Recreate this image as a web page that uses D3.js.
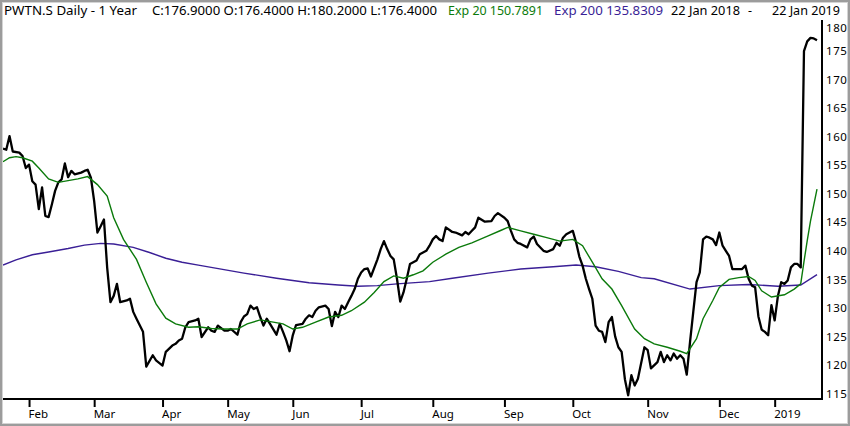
<!DOCTYPE html>
<html>
<head>
<meta charset="utf-8">
<script src="https://cdn.jsdelivr.net/npm/d3@7"></script>
<style>
  html, body { margin: 0; padding: 0; background: #fff; }
  svg { display: block; }
</style>
</head>
<body>
<svg id="chart" width="850" height="426"></svg>
<script>
// trading day index (0 = 22 Jan 2018, 250 = 22 Jan 2019), price
const closeData = [
    [0, 157.9], [1, 157.7], [2, 160.1], [3, 157.4], [5, 157.2], [6, 156.6], [7, 154.5], [8, 155.1],
    [9, 152.2], [10, 151.6], [11, 147.3], [12, 151.1], [13, 146.1], [14, 145.9], [15, 148.1],
    [16, 150.5], [17, 152], [18, 152.5], [19, 155.3], [20, 152.9], [21, 154], [22, 153.4],
    [24, 153.7], [25, 154], [26, 154.2], [27, 152.8], [28, 148.7], [29, 143.2], [30, 144.3],
    [31, 145.5], [32, 137], [33, 131], [34, 132.1], [35, 134.2], [36, 131], [38, 131.3],
    [39, 131.6], [40, 129.3], [41, 128.1], [43, 125.8], [44, 119.7], [46, 121.7], [47, 120.8],
    [49, 119.9], [50, 122.3], [52, 123.4], [53, 123.7], [54, 124.3], [55, 124.6], [56, 126.6],
    [57, 127.5], [59, 127.8], [60, 128.1], [61, 124.9], [63, 126.6], [64, 126], [65, 125.8],
    [66, 126.9], [68, 126], [69, 126], [70, 126.3], [72, 125.3], [73, 127.5], [74, 128.5],
    [75, 128.9], [76, 130.4], [77, 129.8], [78, 130.1], [79, 128.4], [80, 126.9], [81, 128.1],
    [82, 127.2], [84, 125.3], [85, 127.2], [86, 125.8], [87, 124.3], [88, 122.4], [89, 125.2],
    [90, 127], [92, 127.2], [93, 128.1], [94, 128.7], [95, 128.4], [96, 129.5], [97, 130.1],
    [99, 130.4], [100, 129.8], [101, 126.8], [102, 129.3], [103, 128.4], [104, 130.4],
    [105, 129.8], [106, 131], [107, 132.1], [108, 133.3], [109, 135.1], [110, 136.2],
    [111, 136.8], [112, 136.9], [113, 135.5], [115, 138.5], [116, 140.3], [117, 141.7],
    [118, 140.3], [119, 139.1], [120, 138.5], [121, 135.1], [122, 131.1], [123, 132.7],
    [124, 135.1], [125, 137.7], [126, 138], [127, 138.3], [128, 139.4], [129, 139.7],
    [130, 140], [131, 140.9], [132, 142], [133, 142.6], [134, 142], [135, 141.7], [136, 144.1],
    [138, 143.3], [139, 143.2], [141, 142.7], [142, 143.3], [143, 142.9], [144, 143.5],
    [145, 144.1], [146, 145.8], [148, 145.1], [150, 145.2], [151, 146.1], [152, 146.6],
    [154, 145.8], [155, 145.2], [156, 143.5], [157, 142], [158, 141.4], [159, 141.2],
    [161, 140.6], [162, 142], [163, 142.5], [164, 141.2], [166, 140], [167, 139.8],
    [169, 140.3], [170, 141.4], [171, 140.9], [172, 142.3], [173, 142.9], [175, 143.5],
    [176, 141.5], [177, 139], [178, 137.4], [179, 135.1], [180, 133.3], [181, 131.6],
    [182, 126.9], [183, 126], [184, 125.8], [185, 124], [186, 127.5], [187, 128.4],
    [188, 125], [189, 123.1], [190, 122.3], [191, 117.5], [192, 114.7], [193, 118.2],
    [194, 116.4], [195, 117.6], [197, 123.1], [198, 122.6], [199, 119.4], [201, 120.5],
    [202, 122.3], [203, 120.5], [204, 121.7], [205, 120.8], [206, 122], [207, 121.1],
    [208, 121.7], [209, 121.1], [210, 118.3], [211, 124], [212, 129.3], [213, 134.5],
    [214, 136.2], [215, 142], [216, 142.5], [217, 142.3], [218, 142], [219, 141], [220, 143.2],
    [221, 140.9], [222, 140], [223, 139.1], [224, 136.8], [225, 136.8], [227, 136.8],
    [228, 137.4], [229, 135.1], [230, 133.9], [231, 133.6], [232, 128.5], [233, 126.2],
    [234, 125.8], [235, 125.2], [236, 130.5], [237, 127.8], [238, 132.1], [239, 134.5],
    [240, 134.2], [241, 134.8], [242, 137.1], [243, 137.7], [244, 137.7], [245, 137.1],
    [246, 175], [247, 176.7], [248, 177.3], [249, 177.2], [250, 176.9]
];

const ema20Data = [
    [0, 155.6], [2, 156.3], [4, 156.5], [6, 156.3], [9, 155.7], [11, 154.5], [14, 152.6],
    [17, 152], [20, 152.3], [23, 152.6], [26, 153], [29, 151.6], [32, 149.6], [34, 145.8],
    [37, 142], [41, 138.5], [44, 134.5], [47, 130.7], [50, 128.2], [53, 127.2], [57, 126.6],
    [60, 126.7], [64, 126.4], [68, 126.3], [72, 126.3], [75, 127.2], [79, 127.9], [83, 127.5],
    [86, 127.2], [89, 126.3], [92, 126.6], [96, 127.5], [100, 128.4], [104, 128.7],
    [107, 129.5], [111, 131], [114, 132.7], [117, 134.6], [120, 135.6], [123, 135.2],
    [126, 135.8], [129, 136.5], [132, 138], [136, 139.4], [140, 140.6], [144, 141.4],
    [149, 142.6], [153, 143.6], [155, 144.1], [159, 143.5], [163, 142.9], [167, 142.3],
    [171, 141.7], [175, 142], [178, 140.9], [181, 138], [184, 135.1], [187, 133.3],
    [190, 130.4], [194, 126.3], [197, 124.6], [200, 123.7], [204, 123.1], [208, 122.4],
    [210, 122], [213, 124.6], [215, 128.1], [218, 131.3], [220, 133.6], [223, 135],
    [226, 135.3], [229, 135.5], [231, 134.8], [233, 133], [236, 131.9], [240, 132.3],
    [243, 133.3], [245, 134.2], [246, 138.1], [247, 141.8], [248, 145.2], [249, 148.0],
    [250, 150.79]
];

const ema200Data = [
    [0, 137.5], [4, 138.4], [9, 139.3], [14, 139.8], [20, 140.4], [25, 141], [30, 141.3],
    [34, 141.2], [40, 140.6], [45, 139.7], [50, 138.7], [55, 138], [60, 137.5], [67, 136.8],
    [74, 136.1], [84, 135.2], [94, 134.4], [103, 134], [109, 133.8], [115, 133.9],
    [121, 134.2], [131, 134.6], [138, 135.2], [149, 136.1], [159, 136.8], [169, 137.2],
    [176, 137.5], [182, 137.2], [189, 136.4], [196, 135.3], [200, 135.1], [211, 133.3],
    [220, 133.9], [229, 134.1], [238, 133.8], [245, 134], [250, 135.83]
];

const monthLabels = ["Feb", "Mar", "Apr", "May", "Jun", "Jul", "Aug", "Sep", "Oct", "Nov", "Dec", "2019"];
const monthStarts = [8, 28, 49, 69, 89, 110, 132, 154, 175, 198, 220, 237];
const priceTicks = [115, 120, 125, 130, 135, 140, 145, 150, 155, 160, 165, 170, 175, 180];

const headerParts = [
    { text: "PWTN.S Daily -  1 Year", x: 4, w: 133, color: "#000" },
    { text: "C:176.9000 O:176.4000 H:180.2000 L:176.4000", x: 152, w: 285, color: "#000" },
    { text: "Exp 20 150.7891", x: 448, w: 95, color: "#0b7a0b" },
    { text: "Exp 200 135.8309", x: 554, w: 109, color: "#3a1f96" },
    { text: "22 Jan 2018", x: 671, w: 69, color: "#000" },
    { text: "-", x: 748, w: 4, color: "#000" },
    { text: "22 Jan 2019", x: 772, w: 68, color: "#000" }
];

const svg = d3.select("#chart");
const plotLeft = 3, plotRight = 822, plotTop = 20, plotBottom = 399;

let x = d3.scaleLinear().domain([0, 250]).range([3, 817]);
let y = d3.scaleLinear().domain([115, 180]).range([393.5, 22.5]);

// window frame
svg.append("rect")
    .attr("x", 1).attr("y", 1).attr("width", 848).attr("height", 424)
    .attr("fill", "#fff").attr("stroke", "#9c9c9c").attr("stroke-width", 2);
svg.append("rect")
    .attr("x", 2.5).attr("y", 2.5).attr("width", 845).attr("height", 421)
    .attr("fill", "none").attr("stroke", "#d4d4d4").attr("stroke-width", 1);

// header
svg.append("g")
    .selectAll("text")
    .data(headerParts)
    .enter()
    .append("text")
    .attr("x", (d) => d.x)
    .attr("y", 15)
    .attr("textLength", (d) => d.w)
    .attr("lengthAdjust", "spacingAndGlyphs")
    .attr("fill", (d) => d.color)
    .attr("font-family", "'Noto Sans', 'DejaVu Sans', sans-serif")
    .attr("font-size", 12.5)
    .text((d) => d.text);

// lines
svg.append("clipPath").attr("id", "plotclip")
    .append("rect")
    .attr("x", plotLeft).attr("y", plotTop)
    .attr("width", plotRight - plotLeft).attr("height", plotBottom - plotTop);

let lineMkr = d3.line().x((d) => x(d[0])).y((d) => y(d[1]));

let plot = svg.append("g").attr("clip-path", "url(#plotclip)");

plot.append("path")
    .attr("d", lineMkr(ema200Data))
    .attr("fill", "none")
    .attr("stroke", "#3a1f96")
    .attr("stroke-width", 1.4);

plot.append("path")
    .attr("d", lineMkr(closeData))
    .attr("fill", "none")
    .attr("stroke", "#000")
    .attr("stroke-width", 2.3)
    .attr("stroke-linejoin", "round");

plot.append("path")
    .attr("d", lineMkr(ema20Data))
    .attr("fill", "none")
    .attr("stroke", "#0b7a0b")
    .attr("stroke-width", 1.4);

// axis lines
svg.append("line")
    .attr("x1", plotLeft).attr("x2", plotRight + 1)
    .attr("y1", plotBottom).attr("y2", plotBottom)
    .attr("stroke", "#000").attr("stroke-width", 2);
svg.append("line")
    .attr("x1", plotRight).attr("x2", plotRight)
    .attr("y1", plotTop).attr("y2", plotBottom)
    .attr("stroke", "#000").attr("stroke-width", 2);

// x axis (month starts)
let xAxis = svg.append("g")
    .attr("transform", `translate(0, ${plotBottom + 1})`)
    .call(d3.axisBottom(x)
        .tickValues(monthStarts)
        .tickFormat((d, i) => monthLabels[i])
        .tickSize(7)
        .tickSizeOuter(0));
xAxis.select(".domain").remove();
xAxis.selectAll(".tick line").attr("stroke", "#000").attr("stroke-width", 2);
xAxis.selectAll(".tick text")
    .attr("text-anchor", "start")
    .attr("x", -1)
    .attr("y", 10)
    .attr("fill", "#000")
    .attr("font-family", "'Noto Sans', 'DejaVu Sans', sans-serif")
    .attr("font-size", 11.5);

// y axis (prices); top label sits just under the header as in the original
let yAxis = svg.append("g")
    .attr("transform", `translate(${plotRight + 1}, 0)`)
    .call(d3.axisRight(y)
        .tickValues(priceTicks)
        .tickSize(0)
        .tickPadding(3)
        .tickSizeOuter(0));
yAxis.select(".domain").remove();
yAxis.selectAll(".tick text")
    .attr("dy", (d) => (d === 180 ? "0.75em" : "0.32em"))
    .attr("fill", "#000")
    .attr("font-family", "'Noto Sans', 'DejaVu Sans', sans-serif")
    .attr("font-size", 11.5)
    .attr("letter-spacing", 0.6);
</script>
</body>
</html>
